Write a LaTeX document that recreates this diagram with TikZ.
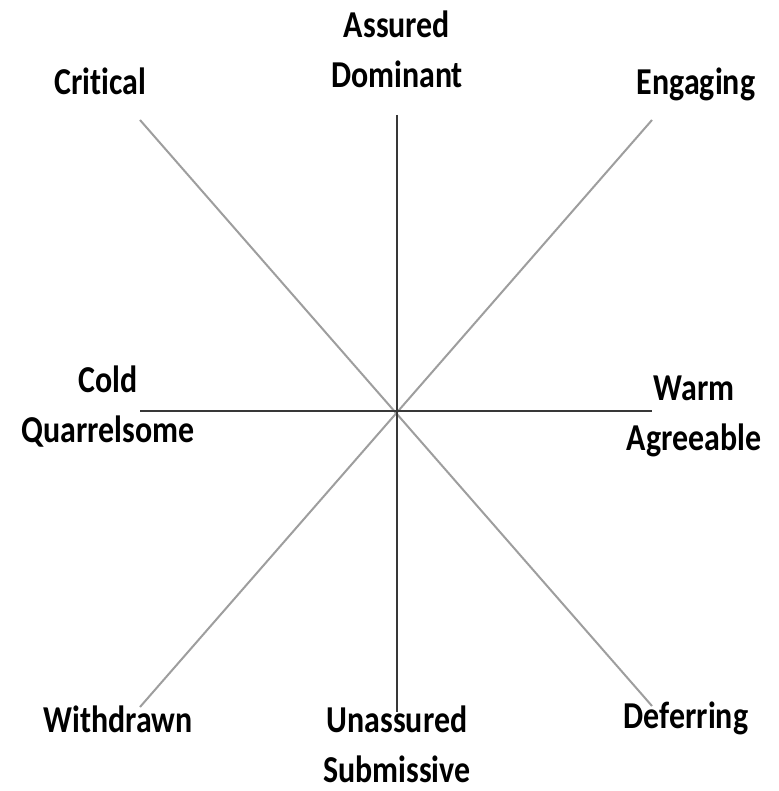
\documentclass[tikz,border=0pt]{standalone}
\usepackage{fontspec}
\setmainfont{Carlito}[FakeStretch=0.84,Ligatures={NoCommon}]
\begin{document}
\begin{tikzpicture}[x=1pt,y=-1pt,
  lbl/.style={inner sep=0pt,anchor=base,align=center,font=\fontsize{38}{50}\selectfont\bfseries},
  axis/.style={draw=black!78,line width=2pt},
  diag/.style={draw=black!38,line width=2pt}]
\useasboundingbox (0,0) rectangle (778,791);
% end points
\coordinate (c) at (397,412);
\coordinate (top) at (397,115);
\coordinate (bot) at (397,712);
\coordinate (lft) at (140,411);
\coordinate (rgt) at (652,411);
\coordinate (tl) at (140,120);
\coordinate (br) at (652,706);
\coordinate (tr) at (652,120);
\coordinate (bl) at (140,707);
\draw[diag] (tl) -- (br);
\draw[diag] (tr) -- (bl);
\draw[axis] (top) -- (bot);
\draw[axis] (lft) -- (rgt);
% labels (base anchor = baseline of the last line)
\node[lbl] (ad) at (397,88) {Assured\\Dominant};
\node[lbl] (cr) at (100,95) {Critical};
\node[lbl] (en) at (696,95) {Engaging};
\node[lbl] (cq) at (108,442) {Cold\\Quarrelsome};
\node[lbl] (wa) at (694,450) {Warm\\Agreeable};
\node[lbl] (wi) at (118,732) {Withdrawn};
\node[lbl] (us) at (397,782) {Unassured\\Submissive};
\node[lbl] (de) at (686,728) {Deferring};
\end{tikzpicture}
\end{document}
